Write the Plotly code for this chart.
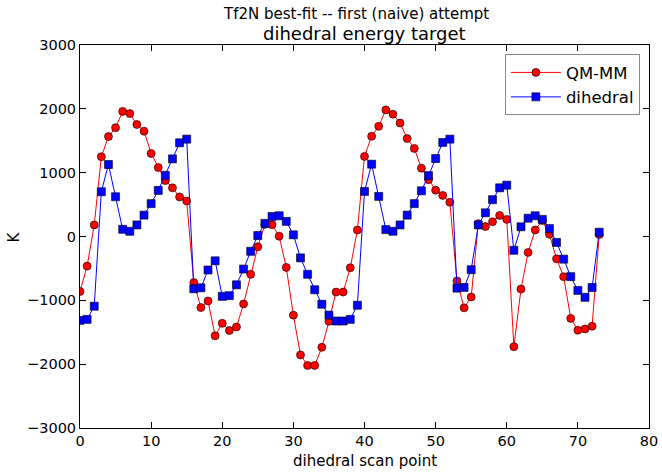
import plotly.graph_objects as go

scan_point = list(range(74))
qm_mm = [-861, -464, 181, 1250, 1565, 1705, 1960, 1925, 1755, 1650,
         1300, 1080, 876, 762, 620, 556, -721, -1113, -1010, -1556,
         -1360, -1473, -1417, -1056, -592, -162, 190, 185, 5, -484,
         -1232, -1855, -2020, -2020, -1736, -1329, -871, -871, -489, 100,
         1255, 1571, 1726, 1983, 1917, 1777, 1535, 1380, 1071, 890,
         726, 644, 536, -696, -1118, -948, 200, 155, 232, 330,
         268, -1726, -824, -250, 103, 250, 35, -350, -629, -1283,
         -1468, -1448, -1406, 31]
dihedral = [-1314, -1298, -1092, 701, 1128, 623, 113, 82, 181, 335,
            515, 722, 958, 1216, 1468, 1525, -819, -804, -525, -381,
            -938, -927, -757, -510, -232, 15, 206, 314, 325, 237,
            26, -335, -592, -834, -1061, -1232, -1324, -1324, -1298, -1077,
            706, 1133, 628, 108, 82, 181, 335, 515, 716, 954,
            1221, 1473, 1525, -809, -798, -520, 181, 371, 577, 763,
            804, -216, 152, 286, 325, 268, 124, -93, -355, -629,
            -845, -953, -799, 67]

x_ticks = [0, 10, 20, 30, 40, 50, 60, 70, 80]
y_ticks = [-3000, -2000, -1000, 0, 1000, 2000, 3000]
y_tick_text = [str(v).replace("-", "\u2212") for v in y_ticks]

font = "DejaVu Sans"
fig = go.Figure()
fig.add_trace(go.Scatter(
    x=scan_point, y=qm_mm, mode="lines+markers", name="QM-MM",
    line=dict(color="red", width=1),
    marker=dict(symbol="circle", size=8, color="red",
                line=dict(color="black", width=0.6))))
fig.add_trace(go.Scatter(
    x=scan_point, y=dihedral, mode="lines+markers", name="dihedral",
    line=dict(color="blue", width=1),
    marker=dict(symbol="square", size=8, color="blue",
                line=dict(color="black", width=0.6))))

axis_common = dict(showgrid=False, zeroline=False, showline=True,
                   linecolor="black", linewidth=1, mirror="ticks",
                   ticks="inside", ticklen=6, tickcolor="black",
                   automargin=False,
                   tickfont=dict(family=font, size=14.5, color="black"))
fig.update_xaxes(range=[0, 80], tickvals=x_ticks,
                 ticktext=[str(v) for v in x_ticks], **axis_common)
fig.update_yaxes(range=[-3000, 3000], tickvals=y_ticks,
                 ticktext=y_tick_text, **axis_common)

fig.update_layout(
    width=662, height=472,
    margin=dict(l=80, r=13, t=45, b=44),
    paper_bgcolor="white", plot_bgcolor="white",
    font=dict(family=font, color="black"),
    showlegend=True,
    legend=dict(x=0.984, y=0.976, xanchor="right", yanchor="top",
                bgcolor="white", bordercolor="#888888", borderwidth=1,
                font=dict(family=font, size=16.5, color="black"),
                itemwidth=50),
    annotations=[
        dict(text="Tf2N best-fit -- first (naive) attempt", x=0.4845, y=1.081,
             xref="paper", yref="paper", xanchor="center", yanchor="middle",
             showarrow=False, font=dict(family=font, size=15)),
        dict(text="dihedral energy target", x=0.5, y=1.031,
             xref="paper", yref="paper", xanchor="center", yanchor="middle",
             showarrow=False, font=dict(family=font, size=18)),
        dict(text="dihedral scan point", x=0.5, y=-0.086,
             xref="paper", yref="paper", xanchor="center", yanchor="middle",
             showarrow=False, font=dict(family=font, size=15)),
        dict(text="K", x=-0.116, y=0.5, textangle=-90,
             xref="paper", yref="paper", xanchor="center", yanchor="middle",
             showarrow=False, font=dict(family=font, size=15)),
    ],
)

fig.write_html("out.html")
